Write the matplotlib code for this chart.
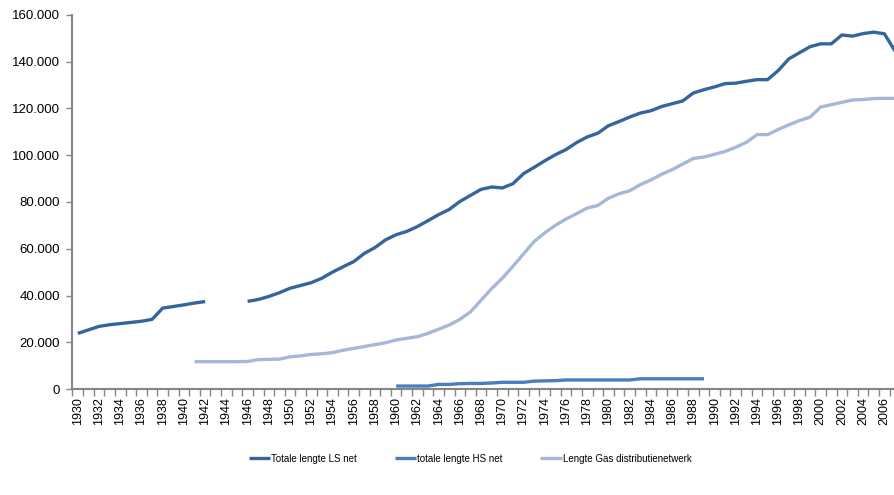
import matplotlib

matplotlib.use("Agg")
import matplotlib.pyplot as plt
import numpy as np
from matplotlib.ticker import FuncFormatter, MultipleLocator

plt.rcParams["font.family"] = ["Liberation Sans", "DejaVu Sans"]

years = list(range(1930, 2008))

# Totale lengte LS net (x1000 km), no data for 1943-1945
ls_years_a = list(range(1930, 1943))
ls_net_a = [23.8, 25.3, 26.8, 27.5, 28.0, 28.5, 29.0, 29.8, 34.6, 35.3, 36.0,
            36.8, 37.4]
ls_years_b = list(range(1946, 2008))
ls_net_b = [
    37.5, 38.3, 39.6, 41.2, 43.1, 44.3, 45.5, 47.4, 50.0, 52.3,
    54.5, 58.0, 60.5, 63.8, 66.0, 67.4, 69.5, 72.0, 74.6, 76.8,
    80.2, 82.8, 85.4, 86.4, 86.0, 87.8, 92.1, 94.8, 97.6, 100.2,
    102.4, 105.4, 107.8, 109.4, 112.6, 114.4, 116.3, 118.0, 119.0, 120.8,
    122.0, 123.2, 126.6, 128.0, 129.2, 130.6, 130.8, 131.6, 132.3, 132.3,
    136.2, 141.2, 143.8, 146.4, 147.6, 147.6, 151.4, 150.9, 152.0, 152.6,
    151.9, 144.5,
]

# totale lengte HS net
hs_years = list(range(1960, 1990))
hs_net = [
    1.3, 1.3, 1.3, 1.3, 2.0, 2.0, 2.3, 2.4, 2.4, 2.6, 2.9, 2.9, 2.9, 3.4, 3.5,
    3.6, 3.9, 3.9, 3.9, 3.9, 3.9, 3.9, 3.9, 4.4, 4.4, 4.4, 4.4, 4.4, 4.4, 4.4,
]

# Lengte Gas distributienetwerk
gas_years = list(range(1941, 2008))
gas_net = [
    11.7, 11.7, 11.7, 11.7, 11.7, 11.8, 12.6, 12.7, 12.8, 13.8, 14.2, 14.8, 15.1,
    15.6, 16.6, 17.4, 18.2, 19.0, 19.8, 21.0, 21.7, 22.4, 23.8, 25.6, 27.4, 29.8,
    33.0, 38.0, 43.0, 47.4, 52.5, 57.8, 63.1, 66.8, 70.0, 72.7, 75.0, 77.4, 78.5,
    81.6, 83.5, 84.8, 87.4, 89.4, 91.8, 93.8, 96.2, 98.6, 99.2, 100.4, 101.6,
    103.4, 105.5, 108.8, 108.8, 111.0, 113.0, 114.8, 116.3, 120.6, 121.6, 122.6,
    123.6, 123.8, 124.2, 124.3, 124.3,
]

fig = plt.figure(figsize=(8.95, 4.95), dpi=100)
ax = fig.add_axes([0.081, 0.214, 0.919, 0.756])

lw = 2.4
ax.plot(ls_years_a, np.array(ls_net_a) * 1000, color="#35659b", lw=lw,
        solid_capstyle="butt", label="Totale lengte LS net")
ax.plot(ls_years_b, np.array(ls_net_b) * 1000, color="#35659b", lw=lw,
        solid_capstyle="butt")
ax.plot(hs_years, np.array(hs_net) * 1000, color="#4a7ebb", lw=lw,
        solid_capstyle="butt", label="totale lengte HS net")
ax.plot(gas_years, np.array(gas_net) * 1000, color="#a5b8d8", lw=lw,
        solid_capstyle="butt", label="Lengte Gas distributienetwerk")

ax.set_xlim(1929.5, 2007.0)
ax.set_ylim(0, 160000)

ax.yaxis.set_major_locator(MultipleLocator(20000))
ax.yaxis.set_major_formatter(
    FuncFormatter(lambda v, p: f"{int(v):,}".replace(",", ".")))

ax.set_xticks(years[::2])
ax.set_xticklabels([str(y) for y in years[::2]], rotation=90)
ax.set_xticks(np.arange(1929.5, 2007.5, 1.0), minor=True)
ax.tick_params(axis="x", which="major", length=0, pad=6, labelsize=9)
ax.tick_params(axis="x", which="minor", length=5, width=1, color="#868686",
               direction="out")
ax.tick_params(axis="y", length=4, width=1, color="#868686", labelsize=9.5,
               pad=5)

for side in ["top", "right"]:
    ax.spines[side].set_visible(False)
for side in ["left", "bottom"]:
    ax.spines[side].set_color("#868686")
    ax.spines[side].set_linewidth(1.5)

fig.legend(loc="center left", bbox_to_anchor=(0.268, 0.073), ncol=3,
           frameon=False, fontsize=7, handlelength=2.2, handletextpad=0.1,
           columnspacing=3.9)

fig.savefig("out.png", dpi=100)
plt.close(fig)
